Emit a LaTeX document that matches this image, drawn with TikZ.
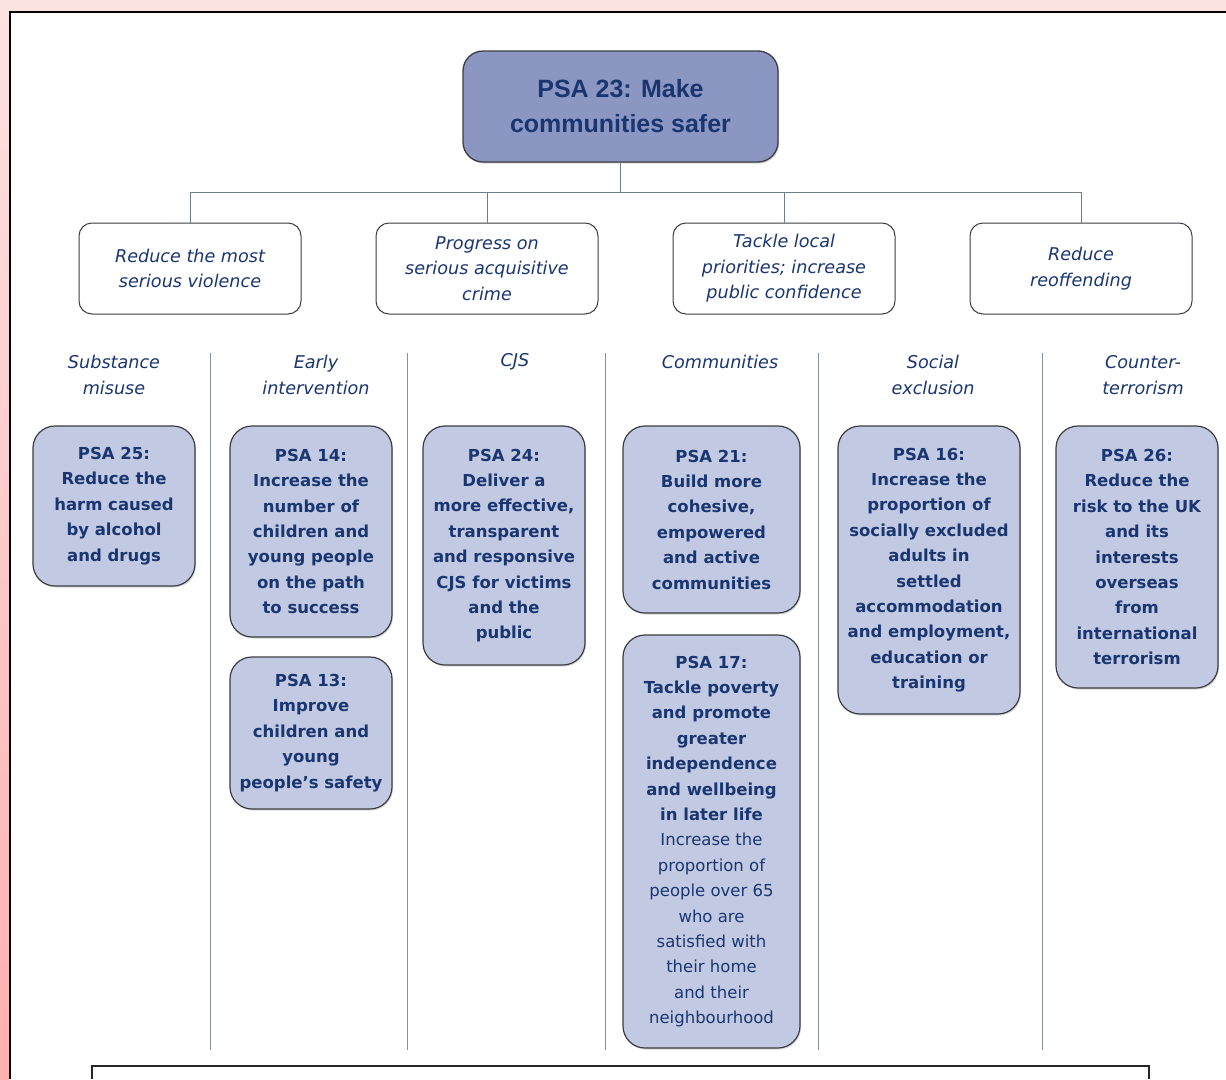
\documentclass[tikz,border=0pt]{standalone}
\usepackage{fontspec}
\setmainfont{DejaVu Sans}
\newfontfamily\topfont{Liberation Sans}
\usetikzlibrary{shadows}
\definecolor{txtblue}{RGB}{26,54,112}
\definecolor{topfill}{RGB}{140,150,194}
\definecolor{psafill}{RGB}{194,201,227}
\definecolor{pinkbg}{RGB}{253,226,226}
\definecolor{pinkdeep}{RGB}{255,176,176}
\definecolor{edge}{RGB}{60,60,66}
\definecolor{connc}{RGB}{110,125,140}
\begin{document}
\begin{tikzpicture}[x=1pt,y=-1pt,
  conn/.style={draw=connc, line width=0.9pt},
  divider/.style={draw=connc!85, line width=0.9pt},
  topbox/.style={draw=edge, line width=1.3pt, fill=topfill, rounded corners=20pt,
    minimum width=315pt, minimum height=111pt, align=center, text=txtblue,
    font=\topfont\bfseries\fontsize{25}{35}\selectfont, inner sep=0pt,
    drop shadow={shadow xshift=1pt, shadow yshift=-1.5pt, opacity=0.35}},
  goalbox/.style={draw=edge, line width=1pt, fill=white, rounded corners=13pt,
    minimum width=222pt, minimum height=91pt, align=center, text=txtblue,
    font=\itshape\fontsize{17.6}{25.6}\selectfont, inner sep=0pt},
  head/.style={align=center, text=txtblue, inner sep=0pt,
    font=\itshape\fontsize{17.6}{25.6}\selectfont},
  psabox/.style={draw=edge, line width=1.2pt, fill=psafill, rounded corners=22pt,
    align=center, text=txtblue, inner sep=0pt,
    font=\bfseries\fontsize{16.5}{25.4}\selectfont,
    drop shadow={shadow xshift=1pt, shadow yshift=-1.5pt, opacity=0.3}},
]
\useasboundingbox (0,0) rectangle (1226,1079);
% background and frame
\fill[pinkbg] (0,0) rectangle (1226,1079);
\shade[top color=pinkbg, bottom color=pinkdeep] (0,11) rectangle (9,1079);
\fill[white] (9,11) rectangle (1226,1079);
\draw[black, line width=2.6pt] (10,1079) -- (10,12) -- (1226,12);
% bottom box (cut off)
\draw[black!85, line width=2pt] (92,1079) -- (92,1066) -- (1149,1066) -- (1149,1079);

% top node
\node[topbox] (top) at (620.5,106.5) {PSA 23: Make\\communities safer};

% second level
\node[goalbox] (g1) at (190,268.5) {Reduce the most\\serious violence};
\node[goalbox] (g2) at (487,268.5) {Progress on\\serious acquisitive\\crime};
\node[goalbox] (g3) at (784,268.5) {Tackle local\\priorities; increase\\public confidence};
\node[goalbox] (g4) at (1081,268.5) {Reduce\\reoffending};

\coordinate (bus) at (620,192);
\draw[conn] (top.south) -- (top.south |- bus);
\draw[conn] (g1.north |- bus) -- (g4.north |- bus);
\foreach \g in {g1,g2,g3,g4} \draw[conn] (\g.north) -- (\g.north |- bus);

% column dividers
\foreach \xx in {210,407,605,818,1042} \draw[divider] (\xx,353) -- (\xx,1050);

% column headers
\node[head] (h1) at (114,375) {Substance\\misuse};
\node[head] (h2) at (316,375) {Early\\intervention};
\node[head] (h3) at (515,362) {CJS};
\node[head] (h4) at (720,362) {Communities};
\node[head] (h5) at (933,375) {Social\\exclusion};
\node[head] (h6) at (1143,375) {Counter-\\terrorism};

% PSA boxes
\node[psabox, minimum width=162pt, minimum height=160pt] (p25) at (114,506)
  {PSA 25:\\Reduce the\\harm caused\\by alcohol\\and drugs};
\node[psabox, minimum width=162pt, minimum height=211pt] (p14) at (311,531.5)
  {PSA 14:\\Increase the\\number of\\children and\\young people\\on the path\\to success};
\node[psabox, minimum width=162pt, minimum height=152pt] (p13) at (311,733)
  {PSA 13:\\Improve\\children and\\young\\people's safety};
\node[psabox, minimum width=162pt, minimum height=239pt] (p24) at (504,545.5)
  {PSA 24:\\Deliver a\\more effective,\\transparent\\and responsive\\CJS for victims\\and the\\public};
\node[psabox, minimum width=177pt, minimum height=187pt] (p21) at (711.5,519.5)
  {PSA 21:\\Build more\\cohesive,\\empowered\\and active\\communities};
\node[psabox, minimum width=177pt, minimum height=413pt] (p17) at (711.5,841.5)
  {PSA 17:\\Tackle poverty\\and promote\\greater\\independence\\and wellbeing\\in later life\\
   {\mdseries Increase the}\\{\mdseries proportion of}\\{\mdseries people over 65}\\
   {\mdseries who are}\\{\mdseries satisfied with}\\{\mdseries their home}\\
   {\mdseries and their}\\{\mdseries neighbourhood}};
\node[psabox, minimum width=182pt, minimum height=288pt] (p16) at (929,570)
  {PSA 16:\\Increase the\\proportion of\\socially excluded\\adults in\\settled\\accommodation\\and employment,\\education or\\training};
\node[psabox, minimum width=162pt, minimum height=262pt] (p26) at (1137,557)
  {PSA 26:\\Reduce the\\risk to the UK\\and its\\interests\\overseas\\from\\international\\terrorism};
\end{tikzpicture}
\end{document}
